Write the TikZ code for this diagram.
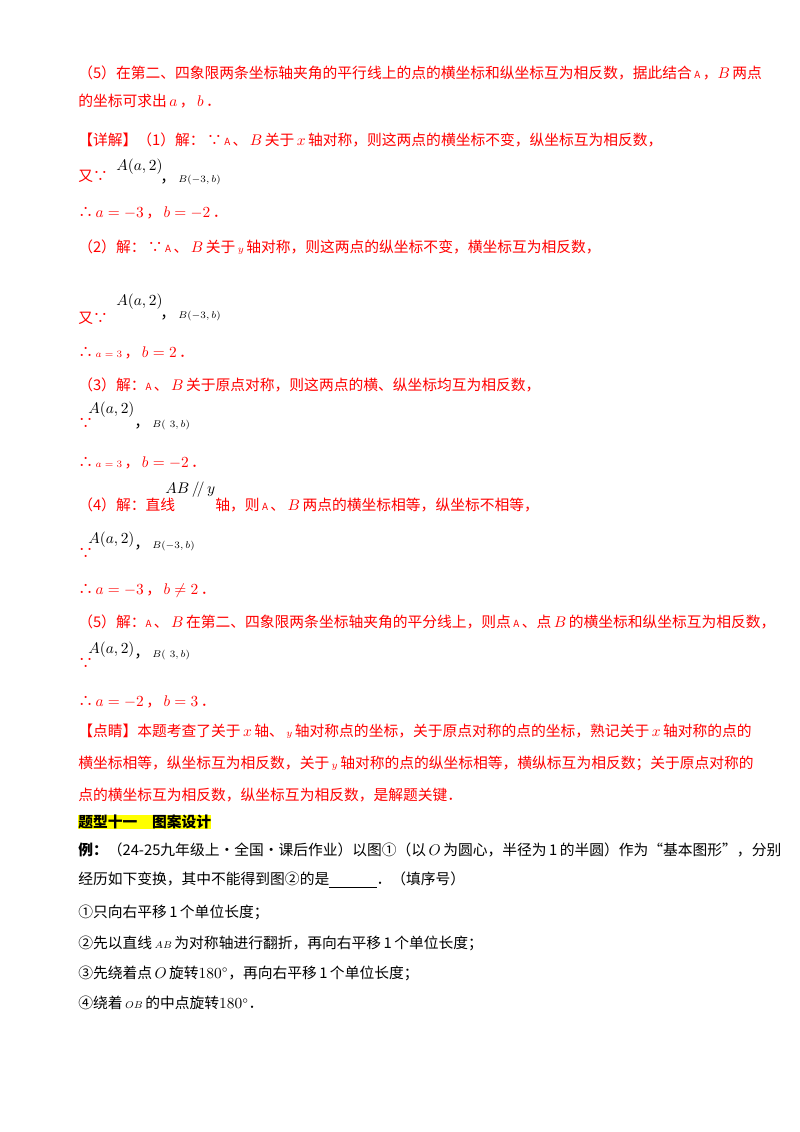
\documentclass[tikz,border=0pt]{standalone}
\usepackage{fontspec}
\setmainfont{Noto Sans CJK SC}
\usepackage{xcolor}
\definecolor{hlyellow}{RGB}{255,255,0}
\tikzset{
	line/.style={anchor=west, inner sep=0pt, text=red, font=\fontsize{10.5}{12}\selectfont},
	bline/.style={line, text=black},
	small/.style={anchor=west, inner sep=0pt, text=black, font=\fontsize{11}{12}\selectfont}
}
\begin{document}
\begin{tikzpicture}[x=0.025cm, y=-0.025cm]
	% Parameters
	\def\lmargin{78}
	\useasboundingbox (0,0) rectangle (800,1132);
	
	%analysis
	\node[line] (l1) at (\lmargin,73) {（5）在第二、四象限两条坐标轴夹角的平行线上的点的横坐标和纵坐标互为相反数，据此结合\,{\scriptsize A}\,，$B$\,两点};
	\node[line] (l2) at (\lmargin,101) {的坐标可求出\,$a$\,，\,$b$\,．};
	
	%part 1
	\node[line] (l3) at (\lmargin,140) {【详解】（1）解：\,∵\,{\scriptsize A}\,、\,$B$\,关于\,$x$\,轴对称，则这两点的横坐标不变，纵坐标互为相反数，};
	\node[line] (l4) at (\lmargin,176) {又∵};
	\node[small] (p4) at (116,167) {$A(a,2)$};
	\node[small] (q4) at (160,180) {，\,{\scriptsize $B(-3,b)$}};
	\node[line] (l5) at (\lmargin,213) {∴\,$a=-3$\,，\,$b=-2$\,．};
	
	%part 2
	\node[line] (l6) at (\lmargin,247) {（2）解：\,∵\,{\scriptsize A}\,、\,$B$\,关于\,{\scriptsize$y$}\,轴对称，则这两点的纵坐标不变，横坐标互为相反数，};
	\node[line] (l7) at (\lmargin,318) {又∵};
	\node[small] (p7) at (116,302) {$A(a,2)$};
	\node[small] (q7) at (160,316) {，\,{\scriptsize $B(-3,b)$}};
	\node[line] (l8) at (\lmargin,353) {∴\,{\scriptsize$a=3$}\,，\,$b=2$\,．};
	
	%part 3
	\node[line] (l9) at (\lmargin,385) {（3）解：{\scriptsize A}\,、\,$B$\,关于原点对称，则这两点的横、纵坐标均互为相反数，};
	\node[line] (l10) at (\lmargin,423) {∵};
	\node[small] (p10) at (88,410) {$A(a,2)$};
	\node[small] (q10) at (134,425) {，\,{\scriptsize $B(\ \,3,b)$}};
	\node[line] (l11) at (\lmargin,463) {∴\,{\scriptsize$a=3$}\,，\,$b=-2$\,．};
	
	%part 4
	\node[line] (l12) at (\lmargin,505) {（4）解：直线};
	\node[small] (p12) at (165,490) {$AB\,/\!/\,y$};
	\node[line] (q12) at (215,505) {轴，则\,{\scriptsize A}\,、\,$B$\,两点的横坐标相等，纵坐标不相等，};
	\node[line] (l13) at (\lmargin,553) {∵};
	\node[small] (p13) at (88,540) {$A(a,2)$};
	\node[small] (q13) at (134,546) {，\,{\scriptsize $B(-3,b)$}};
	\node[line] (l14) at (\lmargin,591) {∴\,$a=-3$\,，\,$b\neq 2$\,．};
	
	%part 5
	\node[line] (l15) at (\lmargin,622) {（5）解：{\scriptsize A}\,、\,$B$\,在第二、四象限两条坐标轴夹角的平分线上，则点\,{\scriptsize A}\,、点\,$B$\,的横坐标和纵坐标互为相反数，};
	\node[line] (l16) at (\lmargin,663) {∵};
	\node[small] (p16) at (88,650) {$A(a,2)$};
	\node[small] (q16) at (134,655) {，\,{\scriptsize $B(\ \,3,b)$}};
	\node[line] (l17) at (\lmargin,702) {∴\,$a=-2$\,，\,$b=3$\,．};
	
	%comment
	\node[line] (l18) at (\lmargin,731) {【点睛】本题考查了关于\,$x$\,轴、\,{\scriptsize$y$}\,轴对称点的坐标，关于原点对称的点的坐标，熟记关于\,$x$\,轴对称的点的};
	\node[line] (l19) at (\lmargin,763) {横坐标相等，纵坐标互为相反数，关于\,{\scriptsize$y$}\,轴对称的点的纵坐标相等，横纵标互为相反数；关于原点对称的};
	\node[line] (l20) at (\lmargin,795) {点的横坐标互为相反数，纵坐标互为相反数，是解题关键．};
	
	%new section
	\node[bline, fill=hlyellow, font=\fontsize{10.5}{12}\selectfont\bfseries] (h1) at (\lmargin,822) {题型十一\quad 图案设计};
	\node[bline] (l21) at (\lmargin,850) {\textbf{例：}（24-25九年级上·全国·课后作业）以图①（以\,$O$\,为圆心，半径为\,1\,的半圆）作为“基本图形”，分别};
	\node[bline] (l22) at (\lmargin,880) {经历如下变换，其中不能得到图②的是\underline{\hspace{3.2em}}．（填序号）};
	\node[bline] (l23) at (\lmargin,912) {①只向右平移\,1\,个单位长度；};
	\node[bline] (l24) at (\lmargin,943) {②先以直线\,{\scriptsize$AB$}\,为对称轴进行翻折，再向右平移\,1\,个单位长度；};
	\node[bline] (l25) at (\lmargin,973) {③先绕着点\,$O$\,旋转$180^\circ$，再向右平移\,1\,个单位长度；};
	\node[bline] (l26) at (\lmargin,1003) {④绕着\,{\scriptsize$OB$}\,的中点旋转$180^\circ$．};
\end{tikzpicture}
\end{document}
